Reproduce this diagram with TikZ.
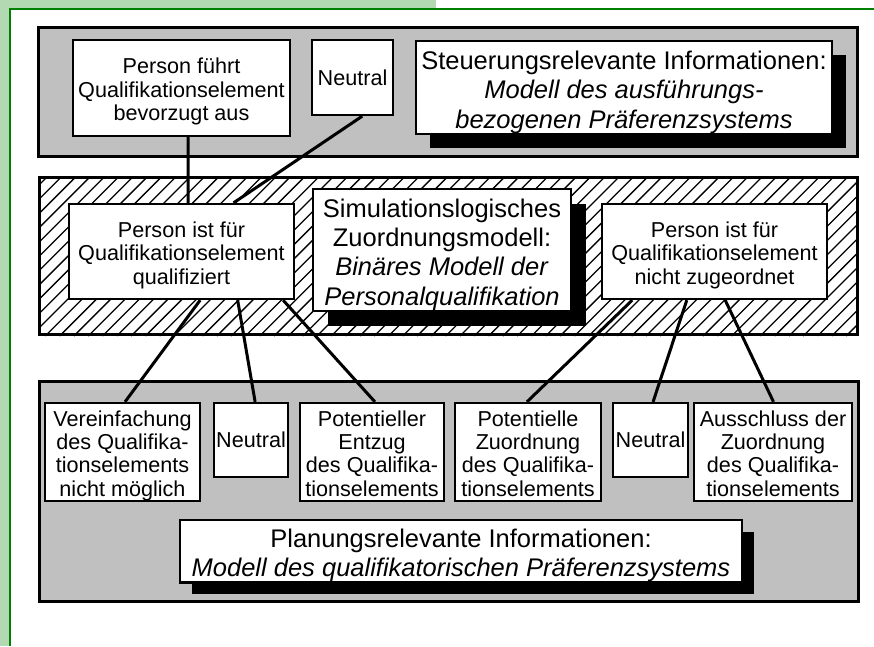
\documentclass[tikz,border=0pt]{standalone}
\usepackage{fontspec}
\setmainfont{Liberation Sans}
\usetikzlibrary{calc,shadows}

\definecolor{sidegreen}{RGB}{179,217,179}
\definecolor{framegreen}{RGB}{0,128,0}
\definecolor{panelgrey}{RGB}{192,192,192}

% fixed line struts so that every text block is set on the same grid
\newcommand{\itemtop}{\rule{0pt}{23pt}}
\newcommand{\itembot}{\rule[-4.6pt]{0pt}{4.6pt}}
\newcommand{\titletop}{\rule{0pt}{28pt}}
\newcommand{\titlebot}{\rule[-5.4pt]{0pt}{5.4pt}}

\tikzset{
  panel/.style={draw=black, line width=3pt, fill=panelgrey, rectangle, inner sep=0pt},
  hatchband/.style={draw=black, line width=3pt, fill=white, rectangle, inner sep=0pt},
  item/.style={draw=black, line width=2.3pt, fill=white, rectangle, inner sep=0pt,
    align=center, font=\fontsize{21.6}{23.3}\selectfont},
  titlebox/.style={item, font=\fontsize{25.5}{29.3}\selectfont},
  shadowed/.style={drop shadow={shadow xshift=#1, shadow yshift=-#1, fill=black, opacity=1}},
  link/.style={draw=black, line width=3pt},
  hatchline/.style={draw=black, line width=1.3pt},
}

\begin{document}
\begin{tikzpicture}[x=1pt,y=-1pt]
\useasboundingbox (0,0) rectangle (874,646);

% page margin strips and frame line
\fill[sidegreen] (0,0) rectangle (436,9);
\fill[sidegreen] (0,0) rectangle (10,646);
\draw[framegreen, line width=2pt] (874,9) -- (10,9) -- (10,646);

% the three layers
\node[panel, minimum width=819pt, minimum height=128.5pt] (top) at (448,91.75) {};
\node[hatchband, minimum width=817.5pt, minimum height=157pt] (band) at (448.25,256) {};
\node[panel, minimum width=819pt, minimum height=220pt] (bottom) at (449,491.5) {};

% diagonal hatching of the middle layer
\begin{scope}
  \clip (band.south west) rectangle (band.north east);
  \foreach \k in {0,...,69} {
    \draw[hatchline] ({-112+14.3*\k},336) -- ++(162,-162);
  }
\end{scope}
\node[hatchband, fill=none, minimum width=817.5pt, minimum height=157pt] (bandframe) at (448.25,256) {};

% control-relevant information
\node[item, minimum width=217pt, minimum height=96pt] (pf) at (181.5,88)
  {\itemtop Person führt\\Qualifikationselement\\bevorzugt aus\itembot};
\node[item, minimum width=81pt, minimum height=75pt] (nt) at (352.5,77.5) {Neutral};
\node[titlebox, shadowed=14pt, minimum width=416pt, minimum height=93pt] (steu) at (624,87.5)
  {\titletop Steuerungsrelevante Informationen:\\\textit{Modell des ausführungs-}\\\textit{bezogenen Präferenzsystems}\titlebot};

% simulation-logic assignment model
\node[item, minimum width=225pt, minimum height=95pt] (q) at (181.5,251.5)
  {\itemtop Person ist für\\Qualifikationselement\\qualifiziert\itembot};
\node[titlebox, shadowed=15pt, minimum width=258pt, minimum height=122pt] (sim) at (442,250)
  {\titletop Simulationslogisches\\Zuordnungsmodell:\\\textit{Binäres Modell der}\\\textit{Personalqualifikation}\titlebot};
\node[item, minimum width=225pt, minimum height=95pt] (nz) at (714.5,251.5)
  {\itemtop Person ist für\\Qualifikationselement\\nicht zugeordnet\itembot};

% planning-relevant information
\node[item, minimum width=155pt, minimum height=98pt] (v) at (122.5,452)
  {\itemtop Vereinfachung\\des Qualifika-\\tionselements\\nicht möglich\itembot};
\node[item, minimum width=74pt, minimum height=74pt] (n1) at (251,440) {Neutral};
\node[item, minimum width=144pt, minimum height=98pt] (e) at (372,452)
  {\itemtop Potentieller\\Entzug\\des Qualifika-\\tionselements\itembot};
\node[item, minimum width=146pt, minimum height=98pt] (pz) at (528,452)
  {\itemtop Potentielle\\Zuordnung\\des Qualifika-\\tionselements\itembot};
\node[item, minimum width=75pt, minimum height=74pt] (n2) at (650.5,440) {Neutral};
\node[item, minimum width=158pt, minimum height=98pt] (a) at (773,452)
  {\itemtop Ausschluss der\\Zuordnung\\des Qualifika-\\tionselements\itembot};
\node[titlebox, shadowed=12pt, minimum width=562pt, minimum height=62pt] (plan) at (461,551)
  {\titletop Planungsrelevante Informationen:\\\textit{Modell des qualifikatorischen Präferenzsystems}\titlebot};

% connectors
\draw[link] ($(pf.south west)!0.53!(pf.south east)$) -- ($(q.north west)!0.529!(q.north east)$);
\draw[link] ($(nt.south west)!0.617!(nt.south east)$) -- ($(q.north west)!0.729!(q.north east)$);

\draw[link] ($(q.south west)!0.582!(q.south east)$) -- ($(v.north west)!0.516!(v.north east)$);
\draw[link] ($(q.south west)!0.747!(q.south east)$) -- ($(n1.north west)!0.554!(n1.north east)$);
\draw[link] ($(q.south west)!0.947!(q.south east)$) -- ($(e.north west)!0.52!(e.north east)$);

\draw[link] ($(nz.south west)!0.138!(nz.south east)$) -- ($(pz.north west)!0.493!(pz.north east)$);
\draw[link] ($(nz.south west)!0.378!(nz.south east)$) -- ($(n2.north west)!0.533!(n2.north east)$);
\draw[link] ($(nz.south west)!0.547!(nz.south east)$) -- ($(a.north west)!0.503!(a.north east)$);
\end{tikzpicture}
\end{document}
